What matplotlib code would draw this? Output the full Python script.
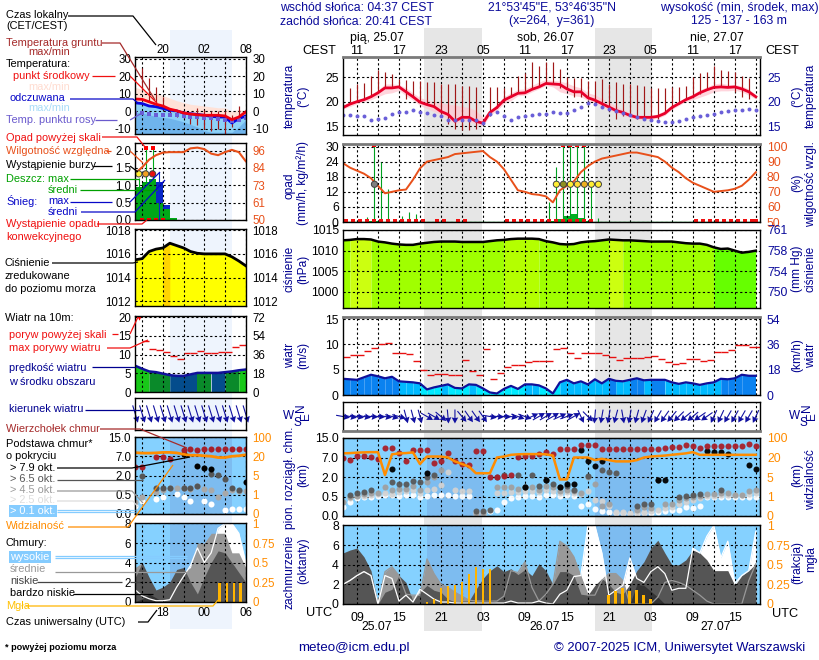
import numpy as np
import matplotlib
matplotlib.use('Agg')
import matplotlib.pyplot as plt
plt.rcParams['font.family'] = ['Liberation Sans', 'DejaVu Sans']
plt.rcParams['font.size'] = 8.7
N = float('nan')

# ---------- main meteogram data (hourly from 07 UTC 25.07) ----------
temp_mid = [18.8,19.5,20.0,20.4,21.0,21.8,22.8,22.8,23.0,22.0,21.0,19.9,19.4,19.0,18.0,17.4,16.0,16.8,16.8,16.0,
            15.6,17.8,18.8,20.3,21.0,21.7,21.8,22.5,23.0,23.7,23.6,23.5,22.6,22.0,22.0,20.8,20.3,19.6,18.9,18.2,
            17.8,17.2,16.8,16.8,16.8,17.0,17.6,18.8,19.6,20.4,21.0,21.8,22.4,22.9,23.0,22.9,23.0,22.6,22.0,21.0]
temp_hi = [19.2,19.9,20.3,20.8,21.5,22.4,23.6,23.6,23.5,22.8,21.8,20.8,20.4,20.0,19.8,19.5,19.3,19.0,18.8,18.2,
           16.8,18.2,19.5,21.0,21.8,22.5,22.6,23.3,24.0,24.5,24.3,24.2,23.8,23.2,22.8,21.8,21.4,20.6,19.9,19.1,
           18.4,17.8,17.3,17.2,17.2,17.5,18.2,19.2,20.0,20.8,21.6,22.4,23.0,23.6,23.8,23.5,23.5,23.2,22.6,21.4]
temp_lo = [18.5,19.0,19.6,20.0,20.4,21.0,21.6,21.8,22.3,21.2,20.3,19.2,18.6,18.0,17.4,16.5,15.5,16.0,16.0,15.4,
           15.0,17.2,18.2,19.6,20.2,21.2,21.3,22.0,22.6,23.3,23.0,22.0,21.6,21.2,21.0,20.2,19.7,19.0,18.4,17.7,
           17.2,16.8,16.4,16.4,16.4,16.6,17.2,18.4,19.2,20.0,20.4,20.9,21.4,22.0,22.2,22.2,22.3,22.0,21.3,20.5]
ground_top = [N,22.8,23.5,23.8,25.2,26.5,26.0,25.7,24.6,24.5,24.3,24.2,24.1,24.1,23.5,23.5,23.5,23.2,23.2,23.0,
              N,23.0,23.0,22.8,23.0,25.2,25.8,28.0,27.2,28.0,28.0,26.7,25.0,24.8,24.8,24.3,24.3,24.6,23.5,24.0,
              23.5,23.5,23.3,23.2,22.8,22.8,22.7,23.0,23.0,23.2,25.0,25.8,26.0,27.2,26.4,26.3,26.0,25.2,24.8,N]
ground_bot = [N,20.0,20.0,20.5,21.0,22.0,22.8,22.8,23.0,20.5,21.0,20.0,19.5,19.0,17.5,15.5,14.5,14.2,14.2,14.5,
              N,17.0,18.8,20.0,21.0,21.8,22.0,22.5,23.0,23.8,23.5,22.8,22.5,21.0,21.0,20.5,20.0,19.0,18.0,16.5,
              17.0,17.0,16.5,16.3,16.3,16.5,17.6,18.5,19.5,20.5,21.0,21.5,22.5,23.0,23.0,23.0,22.0,21.0,20.5,N]
dew_point = [17.2,17.2,17.0,17.0,16.3,16.5,16.7,17.5,17.8,17.8,18.2,17.8,17.7,17.3,17.0,16.3,16.3,16.3,16.2,16.3,
             15.6,17.5,17.8,17.0,16.3,16.8,17.0,17.2,17.5,17.5,17.8,17.6,17.6,18.3,18.9,19.8,19.5,19.0,18.4,18.0,
             17.6,17.3,16.8,16.5,16.2,16.0,15.8,15.8,16.0,16.4,16.8,17.0,17.2,17.5,17.8,18.0,18.2,18.3,18.5,18.3]
humidity = [89,86,84,82,79,74,69,70,71,71.5,78,85.5,90,91,92,93,95,95.5,96,96.5,
            97,93,90,85,78,71,70,68.5,68,67,63,71,74,77,83,87,90,92,93,94,
            95,96,96,95,94,93,90,86,83,79,76,74,72,70,70.5,71,72,74,78,83]
rain_max_x = [3.5,4.5,5.5,6.5,8.5,9.5,10.5,29.5,30.5,31.5,32.5,33.5,34.5,35.5,36.5]
rain_max = [2,30.5,24,13,2.5,4,3,8,22,30.5,30.5,30.5,30.5,15,1.5]
rain_mean_x = [4,5,30,31,32,33,34,35,36]
rain_mean = [0.4,0.3,0.4,1.0,2.5,3.0,1.5,0.5,0.1]
over_scale_x = [4.5,31.5,32.5,33.5,34.5]
storm_x = [4.5,30.5,31.5,32.5,33.5,34.5,35.5,36.5]
storm_cols = ['#808080','#ffee33','#909020','#ffee33','#ffdd33','#eeb020','#ffee33','#ffee33']
conv_x = [0.5,1.5,2.5,3.5,4.5,5.5,6.5,7.5,8.5,9.5,10.5,11.5,13.5,14.5,16.5,17.5,23.5,24.5,25.5,26.5,27.5,28.5,29.5,
          30.5,31.5,32.5,33.5,34.5,35.5,50.5,51.5,52.5,53.5,54.5,55.5,56.5,57.5,58.5,59.0]
pressure = [1012.5,1012.6,1012.8,1012.8,1012.7,1012.2,1012.0,1011.7,1011.5,1011.4,1011.4,1011.7,1011.9,1012.1,1012.2,1012.2,1012.2,1012.1,1012.1,1012.1,
            1012.1,1012.3,1012.5,1012.6,1012.8,1012.9,1012.9,1012.9,1012.8,1012.3,1012.0,1011.6,1011.5,1011.6,1012.0,1012.2,1012.3,1012.5,1012.7,1012.6,
            1012.5,1012.5,1012.4,1012.3,1012.2,1012.2,1012.2,1012.2,1012.0,1011.8,1011.7,1011.7,1011.4,1010.8,1010.4,1010.5,1010.0,1009.5,1009.7,1010.0]
speed = [3.2,3.1,3.0,3.5,4.0,3.7,3.3,3.6,2.7,2.6,2.5,2.3,1.1,1.5,1.8,2.1,1.4,1.3,2.1,2.0,
         1.3,0.5,0.3,1.2,1.8,1.2,2.1,2.1,1.9,1.3,0.3,2.5,3.0,2.3,2.7,2.1,3.1,2.3,3.2,2.8,
         2.7,3.0,3.3,2.9,3.0,3.0,3.0,2.5,2.2,2.5,2.3,2.0,2.3,2.5,3.2,3.1,3.3,4.0,3.8,3.8]
gust = [7.5,7.9,7.9,8.6,9.3,10.1,10.3,8.3,8.3,8.0,6.7,4.9,3.9,4.2,4.1,3.9,3.9,6.9,4.7,3.9,
        9.1,3.1,4.3,5.5,5.9,5.9,6.5,6.7,6.7,6.8,9.1,9.3,8.3,7.3,8.3,8.3,8.3,7.9,7.5,6.9,
        7.3,7.3,7.4,7.6,7.7,7.1,6.5,6.1,6.3,7.1,7.1,6.7,7.0,8.4,8.4,8.8,9.9,9.9,9.5,9.5]
wind_dir = [100,100,100,100,95,95,100,105,105,165,165,165,120,120,130,175,180,140,145,145,
            145,100,95,95,100,110,110,65,60,60,60,65,70,60,155,135,185,190,190,195,
            170,190,195,200,205,210,215,220,225,230,230,235,235,205,205,210,210,210,210,205]
cloud_top = [7,6.4,7.8,7.8,7.4,6.5,10.9,10.9,8.8,6,10.2,10.2,10.2,5.7,6,8.8,6,5.4,5.1,9.7,
             9.7,2,2.1,2.3,2.5,7.4,7.8,7.8,8.4,9.2,8.5,10.6,10.6,10.6,12,12,12,10.6,10.6,10.6,
             10.6,10.6,10.6,10.6,10.6,10.6,11.1,11.3,11.3,12,11.8,11.1,11.8,11.8,11.8,11.8,11.8,11.8,12.7,11.8]
base_79 = [N,N,N,N,N,N,N,4,N,N,N,N,3.1,N,N,N,N,N,N,N,N,N,N,N,N,N,1.25,N,N,1.76,
           N,1.25,1.5,1.5,10.2,6.2,4.9,6.2,N,N,N,N,N,N,N,1.76,1.76,N,N,N,N,N,9.7,9.4,9.1,8.5,N,N,5.1,4]
base_65 = [N,.65,.75,.85,1,N,N,1.6,1.5,1.5,1.7,1.6,2,2.5,N,N,N,N,N,.12,
           .12,.15,2,2.4,N,2.5,1.25,2.4,1.3,1.8,1.5,1.2,1.3,1,N,2.3,N,3.8,3.2,3,
           N,N,.25,.32,.3,1.8,N,N,.5,.55,.65,.7,N,N,1,N,N,N,N,N]
base_45 = [.35,.5,.55,.7,.75,.8,1.2,1,1.1,1.1,1.3,1,1.6,2,3.8,N,N,N,N,.08,
           .08,N,1.2,1.2,1.2,1.1,1.2,1.2,1,1.3,1.2,.9,1,.9,.8,2.1,1.5,.25,.3,N,
           N,N,.15,.22,.2,N,.3,.3,.4,.45,.5,.55,.7,.7,.8,.8,.6,.65,.9,1]
base_25 = [N,.45,.55,.55,.6,.7,.75,.7,.85,.9,1,.8,1,1.1,1.4,3.2,1,.95,.9,.06,
           .06,N,.75,.8,.85,.85,.9,.9,.85,1,.9,.75,.85,.8,.7,.9,.4,.38,.25,.1,
           .1,.08,.1,.1,.12,.15,.2,.22,.3,.35,.4,.45,.55,.55,.6,.65,.6,.65,.7,.75]
base_01 = [.22,.35,.45,.5,.5,.55,.65,.6,.55,.6,.6,.5,.55,.6,.6,.65,.55,.55,.55,.1,
           .1,.13,.15,.35,.45,.5,.55,.55,.5,.6,.6,.55,.6,.55,.25,.3,.18,.14,.1,.07,
           .07,.06,.06,.07,.08,.1,.12,.15,.15,.22,.2,.25,.5,.5,.5,.5,.5,.5,.5,.5]
visibility = [37,38,40,41,42,42,6.5,33,37,38,41,15,24,24,24,20,17,15,13,7.9,
              7.9,7.9,20,24,31,33,34,34,34,33,28,4.5,4.5,20,20,20,18,19,18,17,
              17,17,18,20,24,26,28,31,34,37,42,31,31,31,31,31,31,31,31,31]
cloud_high = [2,2.4,2.9,3.3,2.9,0,2.9,2.6,.3,.9,.2,1.5,1,.5,.2,.2,.1,.1,.1,.1,
              .1,.1,.1,.1,.3,.1,.1,.1,.3,.1,0,1,1.4,2.8,2.9,8,8,5.2,.9,1.4,
              1.9,4.7,2.6,2.2,3.3,3.8,3.1,1.4,1.6,1.6,5.7,5.2,6.9,8,4.7,6.4,2.1,2.9,3.4,7.4]
cloud_mid = [2,2.4,2.9,3.3,2.9,0,3.3,3.8,2.9,1,.9,.9,4.6,3.1,2,1.7,1.2,.8,.4,.3,
             .3,.3,.3,.8,3.4,3.2,4.3,1.7,.3,1,2,6.4,5.9,4.8,2.8,.9,.9,2.4,3.1,3.1,
             2.4,0,0,0,0,.7,2.2,2.4,2.2,1.9,1.4,.9,.3,0,0,0,0,0,2.4,4.1]
cloud_low = [5.2,5.5,5.7,4.8,3.4,0,1.2,1.5,2.9,2.2,.3,1.2,1.9,1.4,1.2,.5,.2,.3,.3,1.5,
             2.6,3.4,3.9,3.3,3.6,3,3.5,2.9,4.1,3.4,2,3.3,3.3,2.9,1,.9,1.9,2.6,2,1.2,
             1,2,3.4,4.3,5.7,6.5,5.2,4,4,4.5,5.5,5.2,4.5,3.4,3.4,3.4,1.9,2.9,3.4,4.1]
cloud_vlow = [0,0,0,0,0,0,0,0,0,0,0,0,0,0,0,0,0,0,0,.2,
              .4,.5,.1,0,0,0,0,0,0,0,0,0,0,0,0,0,0,0,0,0,
              0,0,2,1.9,1.3,.7,0,0,0,0,0,0,0,0,0,0,0,0,0,0]
fog_x = [12,13,14,15,16,17,18,19,20,21,38,39,40,41,42,43,44]
fog = [.03,.07,.2,.23,.24,.28,.38,.47,.45,.45,.11,.16,.2,.17,.18,.11,.06]

# ---------- legend meteogram data (hourly from 14 UTC) ----------
l_mid = [7,6.8,5.4,4,3,1.2,.3,-1,-1.6,-2,-2.3,-2.3,-2.3,-2.7,-4.8,-3.3,-.4]
l_feel = [4.8,4.4,3,2.6,1.6,.6,.2,-1,-1.4,-1.8,-2.3,-2.9,-3.3,-3.3,-6.7,-4.2,-2.7]
l_hi = [13.6,12.5,11,10,9,7.5,6,5,4,3.5,3,2.5,2,2,0,1,0]
l_lo = [3.5,3,2,1.5,1,.3,-.4,-1.5,-2,-2.5,-3,-3.5,-4,-4,-7,-5,-3]
l_blue_hi = [-.5,-1,-2,-3,-3.5,-4,-5,-6,-7.5,-9,-11,-12,-12,-12,-12,-9,-5]
l_dew = [-1,-1.2,-1.5,-2,-2,-2,-2,-2.5,-3,-3,-4,-4,-4.5,-5,-5.5,-5,-4]
l_ground_x = [1,2,3,4,5,6,7,8,9,10,11,12,13,14,15]
l_ground_top = [24.6,19,14,8,2,1,0,-1,2,1,.3,0,0,-2,3]
l_ground_bot = [12,6,3,1,-1,-3,-4,-7,-8,-10,-11,-10,-13,-9,-3]
l_humidity = [81,85,90,93,94.7,95,95,95,97.5,98,97,94,93,95,96.5,95,89]
l_rain_mean = [.95,1.1,1.17,.5,.33,.07]
l_snow_mean = [0,0,0,.6,.1,0]
l_pressure = [1015.5,1015.6,1016.2,1016.4,1016.5,1016.9,1016.7,1016.5,1016.2,1016.05,1016,1016,1016,1016,1015.75,1015.4,1015]
l_speed = [7,6.2,5.5,5.3,4.9,4.5,4.3,4.3,4.7,5.1,5.1,5.1,5.1,5.3,5.5,5.8,6]
l_gust = [N,13.5,11.5,11.1,10.7,9.6,8.9,10.3,10.5,10.9,10.5,10.4,10.6,10.6,11.9,12.6]
l_vis = [35,33,33,34,36,36,34,28,24,24,22,20,19,19,20,22,26]
l_top_x = [0,1,2,3,4,5,6,7,8,9,10,11,12,13,14,15,16]
l_top = [4.2,4.2,N,6.8,6.8,6.3,N,9.8,10,9.8,10.2,10.2,10.2,10.2,10.2,10.2,10.2]
l_79 = [N,N,N,N,N,N,N,7.9,N,4.5,4,3.6,N,N,N,N,1.5]
l_65 = [N,2,N,1,1,1,N,1,1,1.2,N,2.4,2.2,1.7,1,.9,N]
l_45 = [.3,.45,N,.7,.9,1,1,1,.95,1.2,.95,.9,.45,.6,.85,.8,.8]
l_01 = [.2,.35,N,.4,.45,N,.55,.45,.35,N,.35,.25,N,.1,.12,.12,.12]
l_cl_high = [1.2,.6,.3,.1,.1,.2,1.5,2.6,3.7,5.5,4,5,7.5,8,8,7,4]
l_cl_mid = [3.5,4,1.5,0,.5,1.5,2.5,3,3.5,6,6,7,7,7,5,5,3.5]
l_cl_low = [2.5,4,2.5,1.2,1.5,2,3.3,3.5,2,.8,2.5,4,5.2,5,4,3,2]
l_cl_vlow = [0,.3,.8,.4,0,0,0,0,0,0,0,0,0,0,0,0,0]
l_fog_x = [12.2,13.3,14.3,15.3]
l_fog = [.24,.24,.24,.24]

day_labels = ['pią, 25.07', 'sob, 26.07', 'nie, 27.07']
date_labels = ['25.07', '26.07', '27.07']
cest_ticks = ['11','17','23','05','11','17','23','05','11','17']
utc_ticks = ['09','15','21','03','09','15','21','03','09','15']

W, H = 820, 660
fig = plt.figure(figsize=(W/100, H/100), dpi=100, facecolor='white')
NAVY = '#0a0a9a'; ORANGE = '#ff8c00'; RH = '#e8501a'; BAND = '#7dbcf0'

bg = fig.add_axes([0, 0, 1, 1], zorder=0); bg.set_xlim(0, W); bg.set_ylim(H, 0); bg.axis('off')
for x0, x1 in [(424, 482), (595, 652)]:
    bg.fill_between([x0, x1], 28, 631, color='#e6e6e6', lw=0)
bg.fill_between([170, 232], 30, 629, color='#eef4fd', lw=0)

POS_KM = [0, .5, 2, 7, 15]
POS_VIS = [0, 1, 5, 20, 100]
POS = [0, 1, 2, 3, 4]


def km_scale(v):
    return np.interp(v, POS_KM, POS)


def km_inv(v):
    return np.interp(v, POS, POS_KM)


def vis_to_km(v):
    return km_inv(np.interp(v, POS_VIS, POS))


def panel(x0, y0, x1, y1, xlim, ylim, ticks, labels, r_labels=None, r_color='black', grid_x=None, km=False, fs=8.7):
    ax = fig.add_axes([x0/W, 1-y1/H, (x1-x0)/W, (y1-y0)/H], zorder=2)
    ax.patch.set_alpha(0)
    ax.set_xlim(*xlim)
    if km:
        ax.set_yscale('function', functions=(km_scale, km_inv))
    ax.set_ylim(*ylim)
    ax.set_xticks(grid_x); ax.set_xticklabels([])
    ax.set_yticks(ticks); ax.set_yticklabels(labels, fontsize=fs)
    ax.minorticks_off()
    ax.tick_params(length=0, pad=3)
    ax.grid(True, color='black', lw=0.8, ls=(0, (2, 2.2)))
    ax.set_axisbelow(False)
    for s in ax.spines.values():
        s.set_linewidth(1.0); s.set_zorder(6)
    if r_labels is not None:
        if km:
            sec = ax.twinx()
            sec.set_zorder(2)
            sec.set_yscale('function', functions=(km_scale, km_inv))
            sec.set_ylim(*ylim)
            sec.set_yticks(ticks); sec.set_yticklabels(r_labels, color=r_color, fontsize=fs)
            sec.minorticks_off()
            sec.tick_params(length=0, pad=5)
        else:
            sec = ax.secondary_yaxis('right')
            sec.set_yticks(ticks); sec.set_yticklabels(r_labels, color=r_color, fontsize=fs)
            sec.tick_params(length=0, pad=5)
            sec.spines['right'].set_visible(False)
    return ax


def heavy(ax, side):
    ax.spines[side].set_color('#7a7a7a')
    ax.spines[side].set_linewidth(2)


h = np.arange(60)
XM = (0, 59.6)
GM = np.arange(2, 60, 3)
MX0, MX1 = 343, 760

# ---- main temperature
a = panel(MX0, 57, MX1, 135, XM, (13.2, 29.1), [15, 20, 25], ['15', '20', '25'], ['15', '20', '25'], NAVY, grid_x=GM)
a.fill_between(h, temp_lo, temp_hi, color='#ffc8d2', alpha=.75, lw=0, zorder=1)
a.vlines(h, ground_bot, ground_top, color='#a01818', lw=.85, zorder=3)
a.plot(h, temp_mid, color='#e8002a', lw=2.0, zorder=4)
a.scatter(h, dew_point, s=8, color='#6a5fd8', lw=0, zorder=4)
heavy(a, 'top')
at = a

# ---- main precipitation
a = panel(MX0, 144, MX1, 222, XM, (0, 31), [0, 6, 12, 18, 24, 30], ['0', '6', '12', '18', '24', '30'],
          ['50', '60', '70', '80', '90', '100'], RH, grid_x=GM)
a.bar(rain_mean_x, rain_mean, width=1, color='#00b020', lw=0, zorder=2)
a.vlines(rain_max_x, 0, rain_max, color='#00a020', lw=.8, zorder=3)
a.plot(h, (np.array(humidity)-50)*0.6, color=RH, lw=1.4, zorder=4)
a.scatter(over_scale_x, [30.5]*5, marker='s', s=6, color='red', lw=0, zorder=5)
a.scatter(storm_x, [15]*8, s=20, c=storm_cols, edgecolors='#404040', lw=.7, zorder=5)
a.scatter(conv_x, [0.3]*len(conv_x), marker='s', s=5, color='#f01010', lw=0, zorder=5)
a.plot(XM, [0.1, 0.1], color='#00a020', lw=1, zorder=3)
heavy(a, 'top')

# ---- main pressure
a = panel(MX0, 230, MX1, 308, XM, (996.1, 1015), [1000, 1005, 1010, 1015], ['1000', '1005', '1010', '1015'],
          ['750', '754', '758', '761'], NAVY, grid_x=GM)
press_segments = [(0, 1, '#a0ff00'), (1, 4, '#ccff10'), (4, 23, '#a0ff00'), (23, 28, '#b4ff00'), (28, 38, '#a0ff00'),
                  (38, 40, '#ccff10'), (40, 53, '#a0ff00'), (53, 60, '#66ff00')]
for s0, s1, c in press_segments:
    idx = np.arange(s0, min(s1+1, 60))
    a.fill_between(idx, 996, np.array(pressure)[idx], color=c, lw=0, zorder=1, antialiased=False)
a.plot(h, pressure, color='black', lw=1.8, zorder=4)

# ---- main wind
a = panel(MX0, 317, MX1, 395, XM, (0, 15.4), [0, 5, 10, 15], ['0', '5', '10', '15'], ['0', '18', '36', '54'], NAVY, grid_x=GM)
for i in range(59):
    m = (speed[i]+speed[i+1])/2
    c = '#0a82f0' if m >= 3 else ('#00baff' if m >= 1.95 else '#00eaff')
    a.fill_between([i, i+1], 0, speed[i:i+2], color=c, lw=0, zorder=1, antialiased=False)
a.plot(h, speed, color='#10109a', lw=1.6, zorder=4)
a.hlines(gust, h, h+1, color='#e81010', lw=1, zorder=4)
heavy(a, 'top')

# ---- main wind direction
a = panel(MX0, 402, MX1, 431, XM, (0, 1), [], [], grid_x=GM)
rad = np.radians(wind_dir)
a.quiver(h, [.5]*60, np.sin(rad)*14, np.cos(rad)*14, angles='uv', scale_units='dots', scale=1, units='dots',
         width=1.1, headwidth=6, headlength=5.5, headaxislength=5, color='#1010a0', pivot='mid', zorder=4, clip_on=False)
heavy(a, 'bottom')

# ---- main cloud base
a = panel(MX0, 438, MX1, 516, XM, (0, 15), [0, .5, 2, 7, 15], ['0.0', '0.5', '2.0', '7.0', '15.0'],
          ['0', '1', '5', '20', '100'], ORANGE, grid_x=GM, km=True)
a.fill_between(XM, 0, 15, color='#85d1ff', lw=0, zorder=0)
for s0, s1 in [(12, 20), (36, 44)]:
    a.fill_between([s0, s1], 0, 15, color=BAND, lw=0, zorder=.5)
for series, col in [(base_01, 'white'), (base_25, '#d2d2d2'), (base_45, '#a0a0a0'), (base_65, '#585858'), (base_79, 'black'), (cloud_top, '#a8202a')]:
    a.scatter(h, series, s=19, color=col, lw=0, zorder=3, alpha=.95)
a.plot(h, vis_to_km(visibility), color=ORANGE, lw=1.8, zorder=5)

# ---- main cloud cover
a = panel(MX0, 525, MX1, 604, XM, (0, 8.05), [0, 2, 4, 6, 8], ['0', '2', '4', '6', '8'], ['0', '0.25', '0.5', '0.75', '1'], ORANGE, grid_x=GM)
a.fill_between(XM, 0, 8.05, color='#85d1ff', lw=0, zorder=0)
for s0, s1 in [(12, 20), (36, 44)]:
    a.fill_between([s0, s1], 0, 8.05, color=BAND, lw=0, zorder=.5)
a.fill_between(h, 0, cloud_high, color='white', lw=0, zorder=1)
a.fill_between(h, 0, cloud_mid, color='#999999', lw=0, zorder=1.1)
a.fill_between(h, 0, cloud_low, color='#555555', lw=0, zorder=1.2)
a.fill_between(h, 0, cloud_vlow, color='#333333', lw=0, zorder=1.3)
a.plot(h, cloud_mid, color='#999999', lw=.9, zorder=3)
a.plot(h, cloud_high, color='white', lw=.9, zorder=3)
a.bar(fog_x, np.array(fog)*8, width=.4, color='#ffb400', lw=0, zorder=4)
a.set_xticks(GM)
a.set_xticklabels([utc_ticks[k//2] if k % 2 == 0 else '' for k in range(len(GM))], fontsize=8.9)
a.tick_params(axis='x', pad=6)
top = at.secondary_xaxis('top')
top.set_xticks(GM)
top.set_xticklabels([cest_ticks[k//2] if k % 2 == 0 else '' for k in range(len(GM))], fontsize=8.9)
top.tick_params(length=0, pad=0)
top.spines['top'].set_visible(False)

# ---------- legend panels ----------
lh = np.arange(17)
XL = (0, 16)
GL = np.arange(1, 17, 3)
LX0, LX1 = 135.3, 245.7
LF = 8.3

a = panel(LX0, 57, LX1, 134, XL, (-13, 31), [-10, 0, 10, 20, 30], ['-10', '0', '10', '20', '30'],
          ['-10', '0', '10', '20', '30'], grid_x=GL, fs=LF)
a.fill_between(lh, l_lo, l_hi, color='#ffe2d8', lw=0, zorder=1)
a.fill_between(lh, -13, l_feel, color='#8dd2f8', lw=0, zorder=1.1)
a.fill_between(lh, -13, l_blue_hi, color='#6fb4ec', lw=0, zorder=1.2)
a.vlines(l_ground_x, l_ground_bot, l_ground_top, color='#a01818', lw=.85, zorder=3)
a.plot(lh, l_feel, color='#0808e0', lw=2, zorder=4)
a.plot(lh, l_mid, color='#f00010', lw=2, zorder=4.1)
a.scatter(lh, l_dew, s=6, marker='s', color='#6a5fd8', lw=0, zorder=4)
atl = a

a = panel(LX0, 143, LX1, 220, XL, (0, 2.22), [0, .5, 1, 1.5, 2], ['0.0', '0.5', '1.0', '1.5', '2.0'],
          ['50', '61', '73', '84', '96'], RH, grid_x=GL, fs=LF)
a.bar(np.arange(6)+.5, l_snow_mean, width=1, bottom=l_rain_mean, color='#0a28c8', lw=0, zorder=2)
a.bar(np.arange(6)+.5, l_rain_mean, width=1, color='#00a818', lw=0, zorder=2.1)
a.vlines([.5, 1.5, 2.5], 0, [1.2, 2.09, 2.09], color='#00a818', lw=.8, zorder=3)
a.vlines([3.5], 0, [1.38], color='#0a28c8', lw=.8, zorder=3)
a.plot(lh, (np.array(l_humidity)-50)/46*2, color=RH, lw=1.5, zorder=4)
a.scatter([1.5, 2.5], [2.09, 2.09], marker='s', s=6, color='red', lw=0, zorder=5)
a.scatter([.5, 1.5, 2.5], [1.33]*3, s=20, c=['#ffee33', '#f0a020', '#e81010'], edgecolors='#404040', lw=.7, zorder=5)
a.scatter([1, 2, 3, 4], [.01]*4, marker='s', s=5, color='red', lw=0, zorder=5)

a = panel(LX0, 229, LX1, 306, XL, (1011.6, 1018.1), [1012, 1014, 1016, 1018], ['1012', '1014', '1016', '1018'],
          ['1012', '1014', '1016', '1018'], grid_x=GL, fs=LF)
a.fill_between(lh, 1011.5, l_pressure, color='#ffff00', lw=0, zorder=1)
a.fill_between([4, 5], 1011.5, l_pressure[4:6], color='#ffd400', lw=0, zorder=1.1)
a.plot(lh, l_pressure, color='black', lw=2, zorder=4)

a = panel(LX0, 316, LX1, 392, XL, (0, 20.3), [0, 5, 10, 15, 20], ['0', '5', '10', '15', '20'], ['0', '18', '36', '54', '72'], grid_x=GL, fs=LF)
wind_colors = [(0, 2, '#18c818'), (2, 5, '#0a8a2a'), (5, 9, '#044c8c'), (9, 11, '#0a8a2a'), (11, 13, '#044c8c'), (13, 15, '#0a8a2a'), (15, 16, '#18c818')]
for s0, s1, c in wind_colors:
    idx = np.arange(s0, s1+1)
    a.fill_between(idx, 0, np.array(l_speed)[idx], color=c, lw=0, zorder=1, antialiased=False)
a.plot(lh, l_speed, color='#10109a', lw=1.8, zorder=4)
a.hlines(l_gust, lh[:16], lh[:16]+1, color='#e81010', lw=1, zorder=4)
a.scatter([.5], [19.8], marker='v', s=10, color='red', lw=0, zorder=5)

a = panel(LX0, 398, LX1, 430, XL, (0, 1), [], [], grid_x=GL, fs=LF)
rad = np.radians([163]*17)
a.quiver(lh, [.5]*17, np.sin(rad)*18, np.cos(rad)*18, angles='uv', scale_units='dots', scale=1, units='dots',
         width=1.1, headwidth=6, headlength=5.5, headaxislength=5, color='#1010a0', pivot='mid', zorder=4, clip_on=False)

a = panel(LX0, 437, LX1, 514, XL, (0, 15), [0, .5, 2, 7, 15], ['0.0', '0.5', '2.0', '7.0', '15.0'],
          ['0', '1', '5', '20', '100'], ORANGE, grid_x=GL, km=True, fs=LF)
a.fill_between(XL, 0, 15, color='#85d1ff', lw=0, zorder=0)
a.fill_between([5, 14], 0, 15, color=BAND, lw=0, zorder=.5)
a.scatter(lh, l_01, s=19, color='white', lw=0, zorder=3)
a.scatter(lh, l_45, s=19, color='#a8a8a8', lw=0, zorder=3.1)
a.scatter(lh, l_65, s=19, color='#555555', lw=0, zorder=3.2)
a.scatter(lh, l_79, s=19, color='black', lw=0, zorder=3.3)
a.scatter(l_top_x, l_top, s=19, color='#a8202a', lw=0, zorder=3.4)
a.plot(lh, vis_to_km(l_vis), color=ORANGE, lw=2, zorder=5)

a = panel(LX0, 523, LX1, 601.7, XL, (0, 8.05), [0, 2, 4, 6, 8], ['0', '2', '4', '6', '8'], ['0', '0.25', '0.5', '0.75', '1'], ORANGE, grid_x=GL, fs=LF)
a.fill_between(XL, 0, 8.05, color='#85d1ff', lw=0, zorder=0)
a.fill_between([5, 14], 0, 8.05, color=BAND, lw=0, zorder=.5)
a.fill_between(lh, 0, l_cl_high, color='white', lw=0, zorder=1)
a.fill_between(lh, 0, l_cl_mid, color='#999999', lw=0, zorder=1.1)
a.fill_between(lh, 0, l_cl_low, color='#555555', lw=0, zorder=1.2)
a.fill_between(lh, 0, l_cl_vlow, color='#333333', lw=0, zorder=1.3)
a.plot(lh, l_cl_high, color='white', lw=.9, zorder=3)
a.bar(l_fog_x, np.array(l_fog)*8, width=.4, color='#ffb400', lw=0, zorder=4)
a.set_xticks(GL)
a.set_xticklabels(['', '18', '', '00', '', '06'], fontsize=LF)
a.tick_params(axis='x', pad=4)
topl = atl.secondary_xaxis('top')
topl.set_xticks(GL)
topl.set_xticklabels(['', '20', '', '02', '', '08'], fontsize=LF)
topl.tick_params(length=0, pad=1)
topl.spines['top'].set_visible(False)

# ---------- texts ----------
ov = fig.add_axes([0, 0, 1, 1], zorder=5); ov.set_xlim(0, W); ov.set_ylim(H, 0); ov.axis('off'); ov.patch.set_alpha(0)


def T(x, y, s, c='black', ha='left', **k):
    k.setdefault('fontsize', 7.9)
    return ov.text(x, y, s, color=c, ha=ha, va='center', **k)


def L(pts, c='black', lw=.9):
    xs, ys = zip(*pts)
    ov.plot(xs, ys, color=c, lw=lw, solid_capstyle='butt')


BROWN = '#a52a2a'; RED = '#f01010'; BLUE = '#0808c8'; DNAVY = '#000090'; GREEN = '#00a000'; SLATE = '#6a5acd'
for x, y, s, c in [
    (6, 15, 'Czas lokalny', 'black'), (6, 26, '(CET/CEST)', 'black'),
    (6, 43, 'Temperatura gruntu', BROWN), (28, 52, 'max/min', BROWN), (6, 64, 'Temperatura:', 'black'),
    (13, 76, 'punkt środkowy', RED), (28, 87, 'max/min', '#ffdcd0'), (10, 98, 'odczuwana', BLUE),
    (28, 108, 'max/min', '#a8dcf8'), (6, 120, 'Temp. punktu rosy', SLATE), (6, 138, 'Opad powyżej skali', RED),
    (6, 151, 'Wilgotność względna', RH), (6, 165, 'Wystąpienie burzy', 'black'), (6, 179, 'Deszcz: max', GREEN),
    (48, 190, 'średni', GREEN), (6, 201, 'Śnieg:', BLUE), (48, 201, 'max', BLUE), (48, 212, 'średni', BLUE),
    (6, 224, 'Wystąpienie opadu', RED), (6, 237, 'konwekcyjnego', RED), (5, 263, 'Ciśnienie', 'black'),
    (5, 276, 'zredukowane', 'black'), (5, 289, 'do poziomu morza', 'black'), (5, 318, 'Wiatr na 10m:', 'black'),
    (9, 335, 'poryw powyżej skali', RED), (9, 348, 'max porywy wiatru', RED), (9, 368, 'prędkość wiatru', DNAVY),
    (9, 382, 'w środku obszaru', DNAVY), (9, 409, 'kierunek wiatru', DNAVY), (6, 429, 'Wierzchołek chmur', BROWN),
    (6, 444, 'Podstawa chmur*', 'black'), (6, 456, 'o pokryciu', 'black'), (10, 468, '> 7.9 okt.', 'black'),
    (10, 479, '> 6.5 okt.', '#555555'), (10, 490, '> 4.5 okt.', '#999999'), (10, 500, '> 2.5 okt.', '#dddddd'),
    (6, 526, 'Widzialność', ORANGE), (6, 543, 'Chmury:', 'black'), (10, 569, 'średnie', '#999999'),
    (10, 581, 'niskie', '#444444'), (10, 593, 'bardzo niskie', 'black'), (6, 606, 'Mgła', '#ffc000'),
    (6, 622, 'Czas uniwersalny (UTC)', 'black')]:
    T(x, y, s, c)
for y, s in [(511, '> 0.1 okt.'), (557, 'wysokie')]:
    T(10, y, s, 'white', bbox=dict(fc='#85ccff', ec='none', pad=1))
T(5, 648, '* powyżej poziomu morza', 'black', fontsize=6.6, fontweight='bold')

L([(68, 16), (133, 16), (156, 45)])
L([(102, 43), (120, 43), (155, 100)], BROWN)
L([(92, 76), (115, 76)], RED); L([(130, 76), (157, 103)], RED)
L([(70, 99), (133, 99), (138, 103)], BLUE)
L([(95, 120), (117, 120)], SLATE); L([(130, 120), (142, 113)], SLATE)
L([(102, 137), (137, 137), (145, 147)], RED)
L([(106, 151), (111, 151)], RH); L([(130, 151), (143, 163)], RH)
L([(93, 166), (112, 166)]); L([(130, 166), (138, 172)])
L([(70, 179), (139, 179)], GREEN); L([(80, 190), (157, 190)], GREEN)
L([(70, 202), (112, 202)], BLUE); L([(130, 202), (160, 172)], BLUE)
L([(81, 212), (135, 212), (165, 180)], BLUE)
L([(97, 224), (142, 224), (147, 220)], RED)
L([(52, 263), (133, 263), (138, 262)])
L([(112, 334), (118, 334)], RED); L([(130, 334), (138, 317)], RED)
L([(107, 348), (130, 348), (148, 340)], RED)
L([(92, 367), (135, 367)], DNAVY); L([(85, 410), (140, 410)], DNAVY)
L([(100, 429), (140, 429), (187, 448)], BROWN)
L([(57, 468), (132, 468), (190, 457)])
L([(57, 480), (143, 480)], '#555555')
L([(57, 491), (132, 491), (143, 503)], '#999999')
L([(57, 501), (133, 501), (138, 507)], '#dddddd')
for dy in (0, 2):
    L([(57, 510+dy), (135, 510+dy)], '#85ccff')
    L([(55, 556+dy), (187, 556+dy)], '#85ccff')
L([(68, 527), (128, 527), (173, 465)], ORANGE)
L([(55, 572), (193, 572)], '#999999')
L([(37, 582), (122, 582)], '#444444'); L([(130, 582), (140, 582)], '#444444')
L([(73, 594), (153, 594)])
L([(26, 606), (213, 606), (218, 600)], '#ffb400')
L([(138, 622), (148, 622), (157, 610)])

T(280, 8, 'wschód słońca: 04:37 CEST', NAVY, fontsize=8.8); T(280, 22, 'zachód słońca: 20:41 CEST', NAVY, fontsize=8.8)
T(552, 8, '21°53\'45"E, 53°46\'35"N', NAVY, 'center', fontsize=8.8); T(552, 21, '(x=264,  y=361)', NAVY, 'center', fontsize=8.8)
T(739, 8, 'wysokość (min, środek, max)', NAVY, 'center', fontsize=8.8); T(739, 21, '125 - 137 - 163 m', NAVY, 'center', fontsize=8.8)
for x, s in zip([377, 546, 717], day_labels):
    T(x, 38, s, 'black', 'center', fontsize=8.8)
T(319, 51, 'CEST', 'black', 'center', fontsize=9.2); T(782, 51, 'CEST', 'black', 'center', fontsize=9.2)
T(319, 613, 'UTC', 'black', 'center', fontsize=9.2); T(785, 614, 'UTC', 'black', 'center', fontsize=9.2)
for x, s in zip([377, 545, 716], date_labels):
    T(x, 627, s, 'black', 'center', fontsize=8.8)
T(354, 648, 'meteo@icm.edu.pl', DNAVY, 'center', fontsize=9.6)
T(680, 648, '© 2007-2025 ICM, Uniwersytet Warszawski', DNAVY, 'center', fontsize=9.4)

for y1, a1, y2, b1, y3, b2, y4, a2 in [
        (96, 'temperatura', 96, '(°C)', 96, '(°C)', 96, 'temperatura'),
        (186, 'opad', 183, '(mm/h, kg/m²/h)', 183, '(%)', 184, 'wilgotność wzgl.'),
        (269, 'ciśnienie', 269, '(hPa)', 269, '(mm Hg)', 269, 'ciśnienie'),
        (355, 'wiatr', 355, '(m/s)', 355, '(km/h)', 355, 'wiatr'),
        (478, 'pion. rozciągł. chm.', 475, '(km)', 475, '(km)', 480, 'widzialność'),
        (572, 'zachmurzenie', 561, '(oktanty)', 563, '(frakcja)', 559, 'mgła')]:
    T(290, y1, a1, DNAVY, 'center', rotation=90, fontsize=8.6)
    T(303, y2, b1, DNAVY, 'center', rotation=90, fontsize=8.6)
    T(797, y3, b2, DNAVY, 'center', rotation=90, fontsize=8.6)
    T(811, y4, a2, DNAVY, 'center', rotation=90, fontsize=8.6)
for off in (0, 506):
    T(289+off, 416, 'W', DNAVY, 'center', fontsize=8.5)
    T(297+off, 423, 'S', DNAVY, 'center', fontsize=8.5)
    T(301+off, 408, 'N', DNAVY, 'center', fontsize=8.5, rotation=90)
    T(306+off, 416, 'E', DNAVY, 'center', fontsize=8.5, rotation=90)

fig.savefig('out.png', dpi=100, facecolor='white')
